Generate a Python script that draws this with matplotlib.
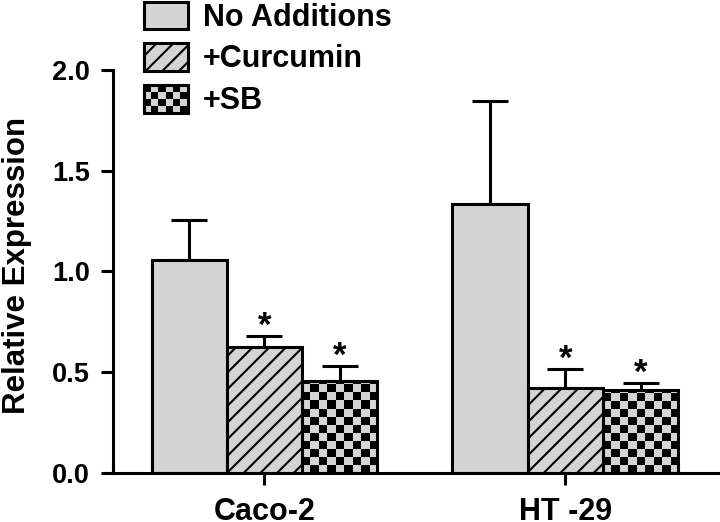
import numpy as np
import matplotlib
matplotlib.use('Agg')
import matplotlib.pyplot as plt
from matplotlib.patches import Rectangle
from matplotlib.colors import ListedColormap
from matplotlib.legend_handler import HandlerBase

groups = ['Caco-2', 'HT -29']
series = ['No Additions', '+Curcumin', '+SB']
no_add = [1.058, 1.335]
no_add_err = [0.196, 0.509]
curcumin = [0.627, 0.423]
curcumin_err = [0.053, 0.091]
sb = [0.458, 0.411]
sb_err = [0.073, 0.037]
signif = [[False, False], [True, True], [True, True]]

plt.rcParams['font.family'] = ['Liberation Sans', 'DejaVu Sans']
plt.rcParams['font.weight'] = 'bold'
plt.rcParams['hatch.linewidth'] = 1.5
plt.rcParams['hatch.color'] = 'black'

GREY = '#d4d4d4'
LW = 2.2
CELL_PX = 8

fig = plt.figure(figsize=(7.2, 5.22), dpi=100)
ax = fig.add_axes([0.157, 0.094, 0.84, 0.772])

x = np.arange(len(groups))
w = 0.25
vals = [no_add, curcumin, sb]
errs = [no_add_err, curcumin_err, sb_err]
hatches = [None, '//', None]

ax.set_xlim(-0.503, 1.507)
ax.set_ylim(0, 2.0)

containers = []
for i, (v, e) in enumerate(zip(vals, errs)):
    pos = x + (i - 1) * w
    fc = 'none' if i == 2 else GREY
    bc = ax.bar(pos, v, w, color=fc, edgecolor='black', linewidth=LW,
                hatch=hatches[i], zorder=2)
    containers.append(bc)
    ax.errorbar(pos, v, yerr=[np.zeros(len(v)), e], fmt='none', ecolor='black',
                elinewidth=LW, capsize=13.3, capthick=LW, zorder=1)
    for p, m, s, sig in zip(pos, v, e, signif[i]):
        if sig:
            ax.annotate('*', (p, m + s), xytext=(0, -5), textcoords='offset points',
                        ha='center', va='bottom', fontsize=25, fontweight='bold')

# checkerboard fill for +SB bars
fig.canvas.draw()
inv = ax.transData.inverted()
origin = inv.transform((0, 0))
cw, ch = inv.transform((CELL_PX, CELL_PX)) - origin
cmap = ListedColormap([GREY, 'black'])
for rect in containers[2]:
    x0, w0, h0 = rect.get_x(), rect.get_width(), rect.get_height()
    nx = max(1, int(round(w0 / cw)))
    ny = int(np.ceil(h0 / ch))
    board = np.indices((ny, nx)).sum(axis=0) % 2
    im = ax.imshow(board, cmap=cmap, extent=(x0, x0 + w0, 0, ny * ch), origin='lower',
                   aspect='auto', interpolation='nearest', zorder=1.5)
    im.set_clip_path(rect)
ax.set_xlim(-0.503, 1.507)
ax.set_ylim(0, 2.0)


class HandlerChecker(HandlerBase):
    def create_artists(self, legend, orig_handle, xdescent, ydescent, width, height,
                       fontsize, trans):
        arts = [Rectangle((-xdescent, -ydescent), width, height, facecolor=GREY,
                          edgecolor='none', transform=trans)]
        nx, ny = 6, 4
        dx, dy = width / nx, height / ny
        for r in range(ny):
            for c in range(nx):
                if (r + c) % 2:
                    arts.append(Rectangle((-xdescent + c * dx, -ydescent + r * dy), dx, dy,
                                          facecolor='black', edgecolor='none', transform=trans))
        arts.append(Rectangle((-xdescent, -ydescent), width, height, facecolor='none',
                              edgecolor='black', linewidth=LW, transform=trans))
        return arts


h_na = Rectangle((0, 0), 1, 1, facecolor=GREY, edgecolor='black', linewidth=LW)
h_cu = Rectangle((0, 0), 1, 1, facecolor=GREY, edgecolor='black', linewidth=LW, hatch='//')
h_sb = Rectangle((0, 0), 1, 1, facecolor=GREY, edgecolor='black', linewidth=LW)
fig.legend([h_na, h_cu, h_sb], series, handler_map={h_sb: HandlerChecker()},
           loc='upper left', bbox_to_anchor=(142 / 720, 1.0), frameon=False,
           borderpad=0.05, borderaxespad=0, handlelength=1.45,
           handleheight=1.0, handletextpad=0.5, labelspacing=0.35,
           prop={'weight': 'bold', 'size': 22})

for s in ['top', 'right']:
    ax.spines[s].set_visible(False)
for s in ['left', 'bottom']:
    ax.spines[s].set_linewidth(LW)
ax.tick_params(axis='both', width=LW, length=8.5, direction='out')
ax.set_xticks(x)
ax.set_xticklabels(groups, fontsize=22, fontweight='bold')
ax.tick_params(axis='x', pad=8.5)
ax.tick_params(axis='y', pad=8)
ax.set_yticks([0, 0.5, 1.0, 1.5, 2.0])
ax.set_yticklabels(['0.0', '0.5', '1.0', '1.5', '2.0'], fontsize=19.5, fontweight='bold')
ax.set_ylabel('Relative Expression', fontsize=22.5, fontweight='bold')
ax.yaxis.set_label_coords(-0.134, 0.515)

fig.savefig('out.png', dpi=100)
